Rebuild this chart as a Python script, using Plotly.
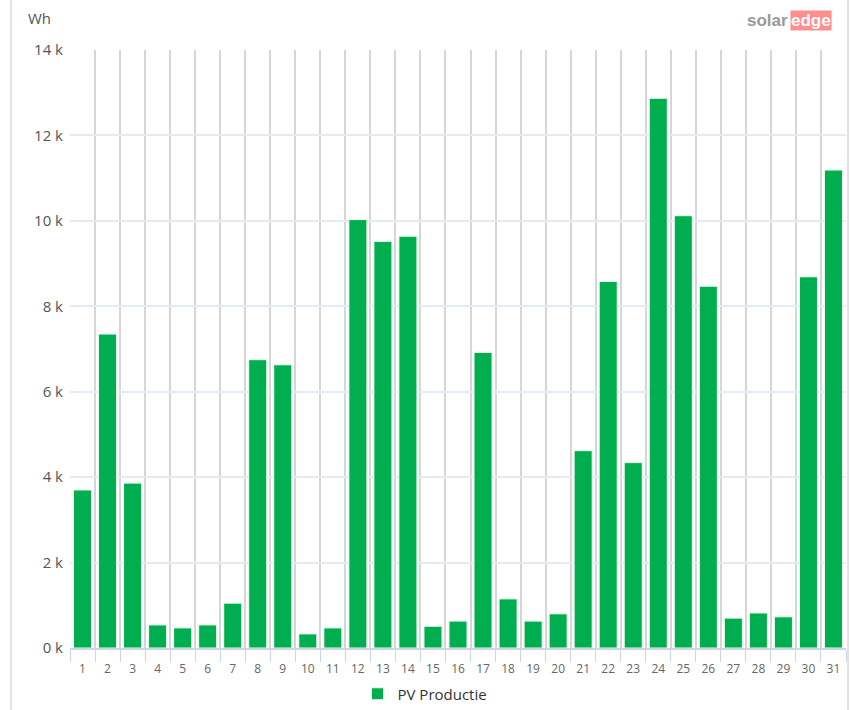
import plotly.graph_objects as go

# daily PV production (Wh)
days = [str(d) for d in range(1, 32)]
production_wh = [
    3700, 7350, 3860, 540, 470, 540, 1050, 6750, 6630, 330,
    470, 10030, 9520, 9640, 510, 630, 6920, 1150, 630, 800,
    4620, 8580, 4340, 12870, 10120, 8470, 700, 820, 730, 8690,
    11190,
]
y_ticks = [0, 2000, 4000, 6000, 8000, 10000, 12000, 14000]
y_tick_labels = ["0 k", "2 k", "4 k", "6 k", "8 k", "10 k", "12 k", "14 k"]
series_name = "PV Productie"

W, H = 851, 710
L, R, T, B = 70, 5, 50, 62
pw, ph = W - L - R, H - T - B


def px(x):
    return (x - L) / pw


def py(y):
    return (H - B - y) / ph


fig = go.Figure()
fig.add_trace(
    go.Bar(
        x=days,
        y=production_wh,
        name=series_name,
        marker=dict(color="#00ae4f", line=dict(color="#e8fff0", width=1)),
        showlegend=True,
    )
)

# outer frame lines left and right
for xx in (11, 848):
    fig.add_shape(
        type="line", xref="paper", yref="paper",
        x0=px(xx), x1=px(xx), y0=py(H), y1=py(0),
        line=dict(color="#e4e4e4", width=2),
    )

fig.add_annotation(
    text="Wh", xref="paper", yref="paper", x=px(26), y=py(18),
    xanchor="left", yanchor="middle", showarrow=False,
    font=dict(size=15, color="#555555"),
)
# logo
fig.add_annotation(
    text="<b>solar</b>", xref="paper", yref="paper", x=px(790), y=py(20),
    xanchor="right", yanchor="middle", showarrow=False,
    font=dict(size=17, color="#9a9a9a", family="Arial"),
)
fig.add_annotation(
    text="<b>edge</b>", xref="paper", yref="paper", x=px(790), y=py(20),
    xanchor="left", yanchor="middle", showarrow=False,
    font=dict(size=17, color="#ffffff", family="Arial"),
    bgcolor="#ff8e8e", borderpad=0,
)

fig.update_layout(
    width=W, height=H,
    margin=dict(l=L, r=R, t=T, b=B),
    paper_bgcolor="white", plot_bgcolor="white",
    font=dict(family="Open Sans", color="#666666"),
    bargap=0.28,
    legend=dict(
        orientation="h",
        xref="container", x=425 / W, xanchor="center",
        yref="container", y=1 - 694 / H, yanchor="middle",
        font=dict(size=15, color="#333333"),
    ),
)
fig.update_xaxes(
    type="category",
    tickson="boundaries",
    automargin=False,
    showgrid=True, gridcolor="#d6d6d6", gridwidth=2,
    ticks="outside", ticklen=12, tickcolor="#ccd6eb", tickwidth=1,
    ticklabelstandoff=9,
    showline=True, linecolor="#ccd6eb", linewidth=2,
    tickfont=dict(size=12, color="#666666"),
)
fig.update_yaxes(
    range=[0, 14000],
    automargin=False,
    tickvals=y_ticks, ticktext=y_tick_labels,
    showgrid=True, gridcolor="#e3ebf5", gridwidth=2,
    zeroline=False, showline=False,
    ticks="outside", ticklen=3, tickcolor="rgba(0,0,0,0)",
    tickfont=dict(size=15, color="#555555"),
)

fig.write_html(
    "out.html",
    config={"displayModeBar": False},
    post_script="document.body.style.margin='0';",
)
